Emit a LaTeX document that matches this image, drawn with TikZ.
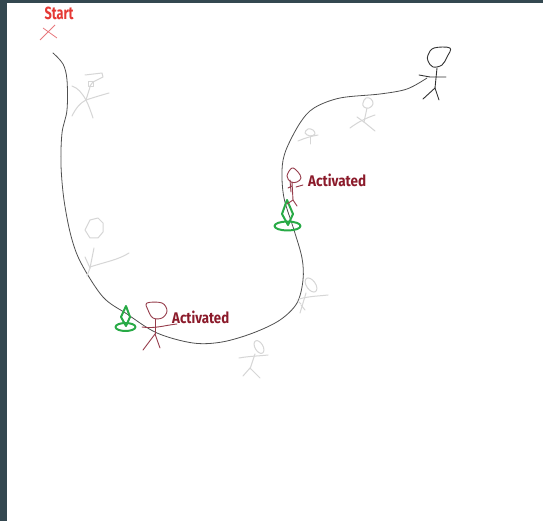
\documentclass[tikz,border=0pt]{standalone}
\usepackage{fontspec}
\setmainfont{Fira Sans}
\definecolor{frame}{RGB}{52,72,80}
\definecolor{startred}{RGB}{229,57,53}
\definecolor{xred}{RGB}{232,120,125}
\definecolor{actred}{RGB}{139,26,42}
\definecolor{figred}{RGB}{150,60,75}
\definecolor{ghost}{RGB}{214,214,214}
\definecolor{trail}{RGB}{80,80,80}
\definecolor{marker}{RGB}{40,170,70}
\tikzset{
  trailline/.style={draw=trail, line width=0.8pt, line cap=round, line join=round},
  ghostfig/.style={draw=ghost, line width=1pt, line cap=round, line join=round},
  livefig/.style={draw=figred, line width=0.9pt, line cap=round, line join=round},
  goalfig/.style={draw=black!80, line width=0.9pt, line cap=round, line join=round},
  beacon/.style={draw=marker, line width=2pt, line join=round},
  lbl/.style={inner sep=0pt, font=\bfseries},
}
\begin{document}
\begin{tikzpicture}[x=1pt, y=-1pt]
\useasboundingbox (0,0) rectangle (543,521);
\fill[white] (0,0) rectangle (543,521);
% window edge
\fill[frame] (0,0) rectangle (7,521);
\fill[frame] (0,0) rectangle (543,3);

% start marker
\node[lbl, text=startred] (start) at (59,13) {\resizebox{29pt}{12.5pt}{Start}};
\draw[draw=xred, line width=0.8pt] (40,40) -- (55,25);
\draw[draw=xred, line width=0.8pt] (43,28) -- (57,38);

% the trail
\draw[trailline] plot[smooth, tension=0.55] coordinates {
  (53,53) (63,64) (67,80) (67,110) (62,133) (61,165) (64,200) (71,236)
  (81,263) (103,297) (127,314) (157,333) (193,343) (222,342) (253,333)
  (280,320) (297,303) (303,280) (302,258) (294,230) (284,198) (282,170)
  (286,150) (300,123) (314,108) (340,98) (380,94) (407,89) (427,78)};

% faded walkers along the trail
% walker near the start
\draw[ghostfig] (85,75) -- (102,73) -- (103,77) -- (93,82) -- (90,86);
\draw[ghostfig] (88,82) rectangle (93,87);
\draw[ghostfig] (90,87) -- (86,100);
\draw[ghostfig] (72,86) .. controls (78,88) and (82,93) .. (86,100);
\draw[ghostfig] (86,100) .. controls (95,97) and (102,95) .. (109,93);
\draw[ghostfig] (72,116) .. controls (76,108) and (80,103) .. (86,100);
\draw[ghostfig] (86,100) .. controls (89,106) and (91,112) .. (93,118);
% walker on the left bend
\draw[ghostfig] (85,230) -- (90,220) -- (98,218) -- (103,223) -- (103,232) -- (98,238) -- (90,238) -- cycle;
\draw[ghostfig] (94,248) -- (90,268);
\draw[ghostfig] (85,257) -- (90,268);
\draw[ghostfig] (90,268) -- (87,276);
\draw[ghostfig] (90,267) .. controls (105,262) and (118,260) .. (129,253);
% walker right of the lower bend
\draw[ghostfig, rotate around={35:(311,285)}] (311,285) ellipse (4.5pt and 8pt);
\draw[ghostfig] (306,293) -- (300,313);
\draw[ghostfig] (299,299) .. controls (310,296) and (320,296) .. (328,295);
\draw[ghostfig] (301,304) -- (297,300);
\draw[ghostfig] (301,305) -- (305,310);
% walker below the lower bend
\draw[ghostfig, rotate around={30:(259,347)}] (259,347) ellipse (4pt and 7pt);
\draw[ghostfig] (255,354) -- (250,369);
\draw[ghostfig] (239,358) .. controls (250,356) and (260,356) .. (268,355);
\draw[ghostfig] (250,368) -- (243,376);
\draw[ghostfig] (250,368) -- (260,378);
% walker on the rising stretch
\draw[ghostfig] plot[smooth cycle, tension=0.7] coordinates {(363,103) (366,98) (371,99) (373,104) (369,108) (364,107)};
\draw[ghostfig] (367,108) -- (364,122);
\draw[ghostfig] (350,128) .. controls (358,122) and (366,118) .. (375,115);
\draw[ghostfig] (357,117) -- (364,122);
\draw[ghostfig] (364,122) -- (375,131);
% walker near the upper bend
\draw[ghostfig] plot[smooth cycle, tension=0.6] coordinates {(305,133) (308,129) (313,130) (315,134) (310,136)};
\draw[ghostfig] (310,136) -- (310,144);
\draw[ghostfig] (298,141) .. controls (305,138) and (312,136) .. (318,135);

% goal walker
\draw[goalfig] plot[smooth cycle, tension=0.6] coordinates {(428,55) (434,48) (450,48) (447,57) (442,65) (433,67) (428,61)};
\draw[goalfig] (437,68) -- (435,88);
\draw[goalfig] (419,75) -- (430,77) -- (446,77);
\draw[goalfig] (435,88) -- (423,99);
\draw[goalfig] (435,88) -- (439,100);

% first activated checkpoint
\draw[beacon] (126,306) -- (130,317) -- (126,326) -- (121,317) -- cycle;
\draw[beacon] (125.5,327) ellipse (10pt and 4pt);
\draw[livefig] plot[smooth cycle, tension=0.6] coordinates {(148,310) (147,303) (162,303) (167,311) (162,318) (153,318)};
\draw[livefig] (155,319) -- (155,334);
\draw[livefig] (142,327) .. controls (155,329) and (166,325) .. (177,324);
\draw[livefig] (155,334) -- (143,350);
\draw[livefig] (155,334) -- (160,348);
\node[lbl, text=actred, anchor=west] (act1) at (172,317.5) {\resizebox{57pt}{12.5pt}{Activated}};

% second activated checkpoint
\draw[beacon] (287,200) -- (293,214) -- (288,225) -- (282,214) -- cycle;
\draw[beacon] (287.5,226) ellipse (13pt and 4.5pt);
\draw[livefig] plot[smooth cycle, tension=0.6] coordinates {(287,176) (292,168) (298,172) (301,178) (297,182) (291,182)};
\draw[livefig] (292,182) -- (293,200);
\draw[livefig] (290,180) -- (291,192);
\draw[livefig] (288,188) -- (292,186);
\draw[livefig] (296,187) -- (303,185);
\draw[livefig] (293,200) -- (287,204);
\draw[livefig] (293,200) -- (297,206);
\node[lbl, text=actred, anchor=west] (act2) at (308,180) {\resizebox{58pt}{12.5pt}{Activated}};
\end{tikzpicture}
\end{document}
